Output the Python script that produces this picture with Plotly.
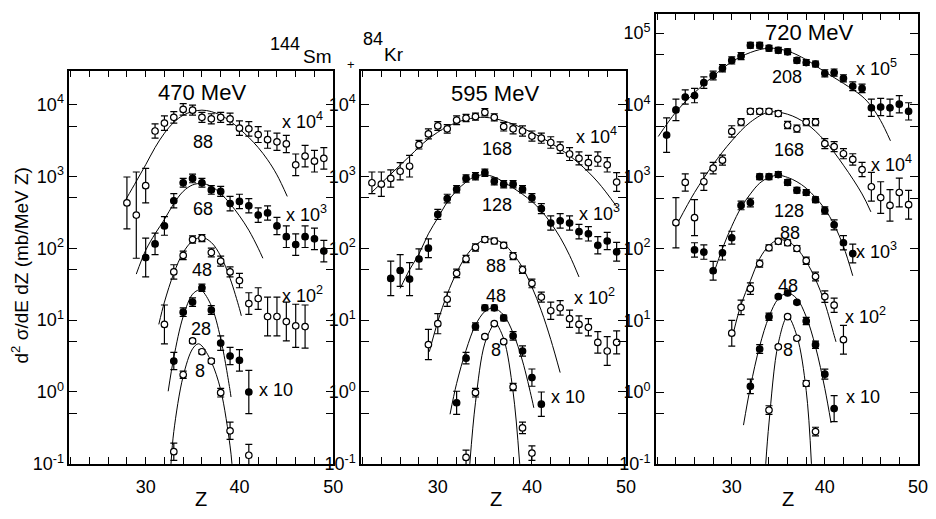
import plotly.graph_objects as go

W, H = 936, 519
FONT = "Liberation Sans"

# Measured points: Z, log10 of the plotted (scaled) cross-section, and the
# half-length of each error bar in decades.

# ---------------- 470 MeV ----------------
z470_88 = list(range(28, 50))
lg470_88 = [2.63, 2.46, 2.87, 3.63, 3.74, 3.82, 3.93, 3.92, 3.82, 3.80, 3.82,
            3.80, 3.67, 3.66, 3.58, 3.51, 3.48, 3.45, 3.16, 3.28, 3.21, 3.25]
er470_88 = [0.36, 0.6, 0.24, 0.1, 0.1, 0.08, 0.08, 0.07, 0.07, 0.07, 0.07,
            0.08, 0.1, 0.1, 0.11, 0.12, 0.12, 0.12, 0.15, 0.15, 0.15, 0.15]

z470_68 = list(range(30, 50))
lg470_68 = [1.87, 2.06, 2.31, 2.66, 2.91, 2.97, 2.91, 2.81, 2.79, 2.62,
            2.65, 2.59, 2.46, 2.49, 2.31, 2.16, 2.05, 2.16, 2.13, 1.96]
er470_68 = [0.27, 0.15, 0.13, 0.1, 0.06, 0.06, 0.06, 0.06, 0.07, 0.1,
            0.1, 0.1, 0.1, 0.1, 0.12, 0.15, 0.15, 0.15, 0.15, 0.15]

z470_48 = list(range(32, 48))
lg470_48 = [0.94, 1.67, 1.90, 2.12, 2.14, 1.94, 1.82, 1.67,
            1.55, 1.23, 1.30, 1.05, 1.05, 0.98, 0.92, 0.91]
er470_48 = [0.27, 0.1, 0.06, 0.05, 0.05, 0.06, 0.07, 0.07,
            0.1, 0.15, 0.15, 0.27, 0.27, 0.27, 0.3, 0.3]

z470_28 = list(range(33, 42))
lg470_28 = [0.43, 1.11, 1.25, 1.45, 1.14, 0.68, 0.50, 0.44, 0.0]
er470_28 = [0.12, 0.06, 0.06, 0.05, 0.06, 0.1, 0.12, 0.15, 0.3]

z470_8 = [33, 34, 35, 36, 37, 38, 39, 41]
lg470_8 = [-0.83, 0.24, 0.71, 0.56, 0.43, -0.01, -0.54, -0.88]
er470_8 = [0.12, 0.05, 0.03, 0.03, 0.03, 0.06, 0.12, 0.15]

# fitted curves (Z, log10 value)
cz470_88 = [27.9, 29, 30, 31, 32, 33, 34, 35, 36, 37, 38, 39, 40, 41, 42, 43, 44, 45.1]
cl470_88 = [2.68, 2.93, 3.16, 3.40, 3.60, 3.75, 3.85, 3.90, 3.92, 3.90, 3.85,
            3.77, 3.66, 3.54, 3.40, 3.23, 3.02, 2.72]
cz470_68 = [29.0, 30, 31, 32, 33, 34, 35, 36, 37, 38, 39, 40, 41, 42, 42.5]
cl470_68 = [1.64, 1.97, 2.20, 2.40, 2.62, 2.79, 2.88, 2.90, 2.86, 2.76, 2.62,
            2.45, 2.25, 2.00, 1.86]
cz470_48 = [31.4, 32, 33, 34, 35, 36, 37, 38, 39, 40, 40.2]
cl470_48 = [0.94, 1.25, 1.65, 1.94, 2.10, 2.15, 2.08, 1.89, 1.58, 1.16, 1.06]
cz470_28 = [32.4, 33, 34, 35, 35.7, 36, 37, 38, 39, 39.1]
cl470_28 = [0.01, 0.48, 1.05, 1.36, 1.42, 1.41, 1.20, 0.74, 0.02, -0.07]
cz470_8 = [32.7, 33, 34, 35, 35.6, 36, 37, 38, 39, 39.2]
cl470_8 = [-1.0, -0.55, 0.22, 0.60, 0.67, 0.64, 0.42, 0.03, -0.75, -1.0]

# ---------------- 595 MeV ----------------
z595_168 = list(range(23, 50))
lg595_168 = [2.91, 2.89, 2.97, 3.07, 3.14, 3.44, 3.59, 3.70, 3.66, 3.78,
             3.81, 3.83, 3.89, 3.82, 3.69, 3.66, 3.63, 3.56, 3.53, 3.47,
             3.40, 3.31, 3.25, 3.19, 3.24, 3.16, 2.92]
er595_168 = [0.15, 0.17, 0.12, 0.12, 0.15, 0.06, 0.07, 0.06, 0.06, 0.06,
             0.05, 0.05, 0.05, 0.05, 0.06, 0.07, 0.07, 0.07, 0.07, 0.08,
             0.08, 0.09, 0.09, 0.1, 0.1, 0.1, 0.13]

z595_128 = list(range(25, 50))
lg595_128 = [1.58, 1.69, 1.57, 1.85, 2.00, 2.47, 2.69, 2.82, 2.97, 3.00,
             3.05, 2.93, 2.89, 2.89, 2.82, 2.70, 2.55, 2.35, 2.38, 2.35,
             2.23, 2.20, 2.04, 2.10, 1.95]
er595_128 = [0.24, 0.22, 0.23, 0.14, 0.13, 0.07, 0.06, 0.05, 0.05, 0.05,
             0.05, 0.05, 0.05, 0.05, 0.05, 0.06, 0.07, 0.1, 0.1, 0.1,
             0.1, 0.1, 0.12, 0.12, 0.13]

z595_88 = list(range(29, 50))
lg595_88 = [0.66, 0.95, 1.29, 1.65, 1.85, 2.01, 2.12, 2.10, 2.04, 1.89,
            1.70, 1.51, 1.32, 1.13, 1.17, 1.02, 0.94, 0.90, 0.69, 0.57, 0.69]
er595_88 = [0.21, 0.14, 0.1, 0.06, 0.05, 0.05, 0.04, 0.04, 0.04, 0.05,
            0.05, 0.06, 0.07, 0.12, 0.1, 0.12, 0.12, 0.12, 0.15, 0.2, 0.16]

z595_48 = list(range(32, 42))
lg595_48 = [-0.15, 0.47, 0.91, 1.17, 1.17, 1.03, 0.78, 0.57, 0.20, -0.17]
er595_48 = [0.16, 0.08, 0.05, 0.04, 0.04, 0.04, 0.06, 0.07, 0.12, 0.17]

z595_8 = list(range(33, 41))
lg595_8 = [-0.91, -0.01, 0.77, 0.95, 0.70, 0.07, -0.50, -0.85]
er595_8 = [0.1, 0.06, 0.02, 0.02, 0.02, 0.05, 0.08, 0.1]

cz595_168 = [23, 25, 27, 29, 31, 33, 35, 37, 39, 41, 43, 45, 47, 49]
cl595_168 = [2.78, 3.03, 3.28, 3.52, 3.69, 3.79, 3.82, 3.77, 3.67, 3.54,
             3.38, 3.18, 2.92, 2.58]
cz595_128 = [26, 27, 28, 29, 30, 31, 32, 33, 34, 35, 36, 37, 38, 39, 40,
             41, 42, 43, 44, 45]
cl595_128 = [1.44, 1.70, 1.92, 2.20, 2.42, 2.64, 2.80, 2.92, 3.00, 3.02,
             2.99, 2.92, 2.84, 2.75, 2.65, 2.52, 2.35, 2.15, 1.90, 1.60]
cz595_88 = [29.1, 30, 31, 32, 33, 34, 35, 36, 37, 38, 39, 40, 41, 42, 43]
cl595_88 = [0.56, 0.98, 1.36, 1.66, 1.89, 2.04, 2.12, 2.12, 2.06, 1.92,
            1.73, 1.46, 1.13, 0.73, 0.27]
cz595_48 = [31.3, 32, 33, 34, 35, 35.8, 36, 37, 38, 39, 40, 40.2]
cl595_48 = [-0.31, 0.12, 0.58, 0.93, 1.12, 1.17, 1.17, 1.07, 0.82, 0.43, -0.10, -0.22]
cz595_8 = [33.4, 34, 35, 36, 36.1, 37, 38, 38.7]
cl595_8 = [-1.0, -0.15, 0.68, 0.96, 0.97, 0.74, 0.0, -1.0]

# ---------------- 720 MeV ----------------
z720_208 = list(range(23, 50))
lg720_208 = [3.58, 3.93, 4.11, 4.13, 4.31, 4.41, 4.51, 4.62, 4.68, 4.83,
             4.83, 4.79, 4.76, 4.74, 4.62, 4.59, 4.57, 4.44, 4.45, 4.37,
             4.26, 4.23, 3.96, 3.97, 3.96, 4.01, 3.91]
er720_208 = [0.24, 0.15, 0.1, 0.1, 0.08, 0.06, 0.05, 0.05, 0.05, 0.04,
             0.04, 0.04, 0.04, 0.04, 0.04, 0.04, 0.04, 0.05, 0.05, 0.05,
             0.06, 0.06, 0.12, 0.12, 0.12, 0.12, 0.12]

z720_168 = list(range(24, 50))
lg720_168 = [2.36, 2.92, 2.43, 2.93, 3.12, 3.23, 3.63, 3.76, 3.91, 3.91,
             3.91, 3.88, 3.72, 3.67, 3.76, 3.76, 3.46, 3.42, 3.32, 3.24,
             3.10, 2.86, 2.71, 2.60, 2.78, 2.61]
er720_168 = [0.35, 0.12, 0.25, 0.12, 0.08, 0.07, 0.08, 0.05, 0.04, 0.04,
             0.04, 0.04, 0.05, 0.05, 0.05, 0.05, 0.07, 0.07, 0.07, 0.08,
             0.1, 0.2, 0.22, 0.22, 0.2, 0.2]

z720_128 = list(range(26, 44))
lg720_128 = [1.98, 1.95, 1.69, 1.94, 2.15, 2.60, 2.64, 3.00, 3.00, 3.03,
             2.92, 2.81, 2.78, 2.68, 2.53, 2.33, 2.08, 1.93]
er720_128 = [0.1, 0.1, 0.13, 0.1, 0.09, 0.06, 0.06, 0.04, 0.04, 0.04,
             0.04, 0.04, 0.04, 0.04, 0.05, 0.07, 0.1, 0.13]

z720_88 = list(range(30, 43))
lg720_88 = [0.82, 1.18, 1.44, 1.79, 2.01, 2.10, 2.08, 2.00, 1.83, 1.61,
            1.33, 1.21, 0.73]
er720_88 = [0.18, 0.1, 0.08, 0.05, 0.04, 0.04, 0.04, 0.04, 0.05, 0.06,
            0.08, 0.1, 0.2]

z720_48 = list(range(32, 42))
lg720_48 = [0.08, 0.60, 1.05, 1.33, 1.38, 1.25, 0.99, 0.66, 0.25, -0.23]
er720_48 = [0.1, 0.06, 0.05, 0.02, 0.02, 0.02, 0.05, 0.05, 0.07, 0.18]

z720_8 = list(range(34, 40))
lg720_8 = [-0.25, 0.63, 1.05, 0.75, 0.12, -0.55]
er720_8 = [0.06, 0.02, 0.02, 0.02, 0.04, 0.06]

cz720_208 = [22.1, 24, 26, 28, 30, 32, 34, 36, 38, 40, 42, 44, 45, 46, 47.05]
cl720_208 = [3.56, 3.90, 4.17, 4.40, 4.60, 4.73, 4.79, 4.75, 4.63, 4.46,
             4.30, 4.12, 3.98, 3.78, 3.50]
cz720_168 = [24.25, 26, 28, 30, 32, 34, 36, 38, 40, 42, 44, 44.95]
cl720_168 = [2.37, 2.78, 3.17, 3.50, 3.76, 3.90, 3.87, 3.74, 3.50, 3.16, 2.76, 2.51]
cz720_128 = [28.1, 29, 30, 31, 32, 33, 34, 35, 36, 37, 38, 39, 40, 41, 42, 43]
cl720_128 = [1.67, 2.00, 2.31, 2.57, 2.76, 2.91, 2.99, 3.02, 2.99, 2.93,
             2.84, 2.71, 2.55, 2.33, 2.03, 1.62]
cz720_88 = [30.2, 31, 32, 33, 34, 35, 36, 37, 38, 39, 40, 41, 41.2]
cl720_88 = [0.84, 1.22, 1.55, 1.86, 2.04, 2.12, 2.10, 2.00, 1.82, 1.57, 1.24, 0.79, 0.70]
cz720_48 = [31.26, 32, 33, 34, 35, 36, 37, 38, 39, 40, 40.67]
cl720_48 = [-0.46, 0.07, 0.64, 1.05, 1.30, 1.38, 1.30, 1.05, 0.63, 0.05, -0.43]
cz720_8 = [33.65, 34, 35, 36, 37, 38, 38.56]
cl720_8 = [-1.0, -0.43, 0.68, 1.05, 0.78, 0.02, -1.0]

# axis tick labels
x_tick_vals = list(range(22, 51, 2))
x_tick_text = [str(v) if v % 10 == 0 else "" for v in x_tick_vals]

# (x axis, y axis, [(Z, log, err, filled)], [(curve Z, curve log)])
panels = [
    ("x", "y",
     [(z470_88, lg470_88, er470_88, False), (z470_68, lg470_68, er470_68, True),
      (z470_48, lg470_48, er470_48, False), (z470_28, lg470_28, er470_28, True),
      (z470_8, lg470_8, er470_8, False)],
     [(cz470_88, cl470_88), (cz470_68, cl470_68), (cz470_48, cl470_48),
      (cz470_28, cl470_28), (cz470_8, cl470_8)]),
    ("x2", "y2",
     [(z595_168, lg595_168, er595_168, False), (z595_128, lg595_128, er595_128, True),
      (z595_88, lg595_88, er595_88, False), (z595_48, lg595_48, er595_48, True),
      (z595_8, lg595_8, er595_8, False)],
     [(cz595_168, cl595_168), (cz595_128, cl595_128), (cz595_88, cl595_88),
      (cz595_48, cl595_48), (cz595_8, cl595_8)]),
    ("x3", "y3",
     [(z720_208, lg720_208, er720_208, True), (z720_168, lg720_168, er720_168, False),
      (z720_128, lg720_128, er720_128, True), (z720_88, lg720_88, er720_88, False),
      (z720_48, lg720_48, er720_48, True), (z720_8, lg720_8, er720_8, False)],
     [(cz720_208, cl720_208), (cz720_168, cl720_168), (cz720_128, cl720_128),
      (cz720_88, cl720_88), (cz720_48, cl720_48), (cz720_8, cl720_8)]),
]

fig = go.Figure()

for xa, ya, series, curves in panels:
    for cz, cl in curves:
        fig.add_trace(go.Scatter(
            x=cz, y=[10 ** v for v in cl], mode="lines", xaxis=xa, yaxis=ya,
            line=dict(color="black", width=1, shape="spline", smoothing=1.0),
            showlegend=False, hoverinfo="skip", cliponaxis=True))
    for z, lg, er, filled in series:
        y = [10 ** v for v in lg]
        up = [10 ** (v + e) - 10 ** v for v, e in zip(lg, er)]
        dn = [10 ** v - 10 ** (v - e) for v, e in zip(lg, er)]
        fig.add_trace(go.Scatter(
            x=z, y=y, mode="markers", xaxis=xa, yaxis=ya,
            marker=dict(symbol="circle", size=6.5,
                        color="black" if filled else "white",
                        line=dict(color="black", width=1.2)),
            error_y=dict(type="data", symmetric=False, array=up, arrayminus=dn,
                         color="black", thickness=1.2, width=3.5),
            showlegend=False, hoverinfo="skip", cliponaxis=True))


def y_ticks(lo, hi):
    vals, text = [], []
    for n in range(lo, hi + 1):
        vals.append(10.0 ** n)
        text.append("10<sup>%d</sup>" % n)
        if n < hi:
            vals.append(5 * 10.0 ** n)
            text.append("")
    return vals, text


tick_font = dict(family=FONT, size=18, color="black")
common_x = dict(range=[21.85, 50.02], tickvals=x_tick_vals, ticktext=x_tick_text,
                ticks="inside", ticklen=7, tickwidth=1.2, tickcolor="black",
                showline=True, linecolor="black", linewidth=1.5, mirror="allticks",
                showgrid=False, zeroline=False, tickfont=tick_font,
                ticklabelstandoff=6)
yv1, yt1 = y_ticks(-1, 4)
yv3, yt3 = y_ticks(-1, 5)
common_y = dict(type="log", ticks="inside", ticklen=8, tickwidth=1.2,
                tickcolor="black", showline=True, linecolor="black", linewidth=1.5,
                mirror="allticks", showgrid=False, zeroline=False, tickfont=tick_font)

y_bot = 46 / H
fig.update_layout(
    width=W, height=H, margin=dict(l=0, r=0, t=0, b=0), autosize=False,
    paper_bgcolor="white", plot_bgcolor="white",
    font=dict(family=FONT, color="black"),
    xaxis=dict(domain=[70 / W, 337 / W], anchor="y", **common_x),
    xaxis2=dict(domain=[365 / W, 633 / W], anchor="y2", **common_x),
    xaxis3=dict(domain=[663 / W, 928 / W], anchor="y3", **common_x),
    yaxis=dict(domain=[y_bot, 447 / H], anchor="x", range=[-1, 4.47],
               tickvals=yv1, ticktext=yt1, **common_y),
    yaxis2=dict(domain=[y_bot, 447 / H], anchor="x2", range=[-1, 4.47],
                tickvals=yv1, ticktext=yt1, **common_y),
    yaxis3=dict(domain=[y_bot, 505 / H], anchor="x3", range=[-1, 5.27],
                tickvals=yv3, ticktext=yt3, **common_y),
)


def label(text, x, y, size=18, xanchor="center", angle=0):
    fig.add_annotation(text=text, x=x / W, y=1 - y / H, xref="paper", yref="paper",
                       showarrow=False, xanchor=xanchor, yanchor="middle",
                       textangle=angle, font=dict(family=FONT, size=size, color="black"))


# reaction title
label("144", 288, 45, 18)
label("Sm", 321, 58, 19)
label("+", 355, 66, 13)
label("84", 377, 40, 18)
label("Kr", 398, 56, 19)

# beam energies
label("470 MeV", 204, 94, 22)
label("595 MeV", 500, 95, 22)
label("720 MeV", 818, 33, 22)

# y-axis title and x-axis titles
label("d<sup>2</sup> σ/dE dZ (mb/MeV Z)", 20, 270, 19, angle=-90)
for xc in (203, 501, 797):
    label("Z", xc, 509, 20)

# energy-loss labels
for txt, x, y in [("88", 205, 145), ("68", 205, 213), ("48", 204, 275),
                  ("28", 203, 335), ("8", 202, 378),
                  ("168", 502, 152), ("128", 502, 209), ("88", 501, 271),
                  ("48", 501, 302), ("8", 501, 357),
                  ("208", 795, 79), ("168", 798, 153), ("128", 798, 215),
                  ("88", 799, 238), ("48", 797, 292), ("8", 797, 357)]:
    label(txt, x, y, 18)

# scale factors
for txt, x, y in [("x 10<sup>4</sup>", 283, 123), ("x 10<sup>3</sup>", 287, 218),
                  ("x 10<sup>2</sup>", 283, 300), ("x 10", 260, 398),
                  ("x 10<sup>4</sup>", 580, 138), ("x 10<sup>3</sup>", 583, 217),
                  ("x 10<sup>2</sup>", 578, 302), ("x 10", 555, 405),
                  ("x 10<sup>5</sup>", 863, 69), ("x 10<sup>4</sup>", 878, 167),
                  ("x 10<sup>3</sup>", 863, 255), ("x 10<sup>2</sup>", 852, 322),
                  ("x 10", 853, 405)]:
    label(txt, x, y, 18, xanchor="left")

fig.write_html("out.html")
